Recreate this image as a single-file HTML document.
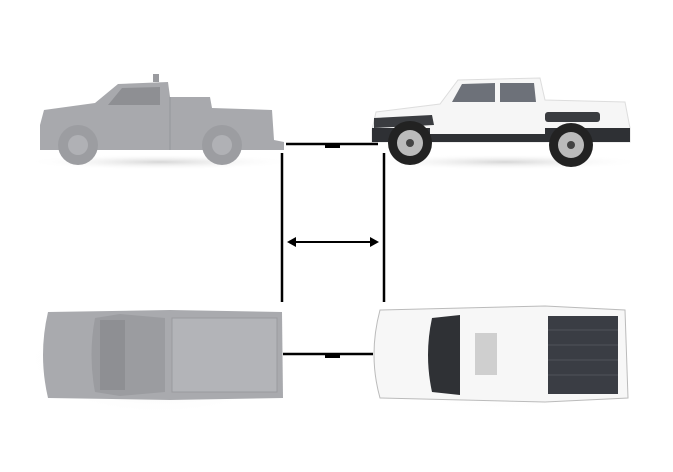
<!DOCTYPE html>
<html><head><style>html,body{margin:0;padding:0;background:#fff}svg{display:block}</style></head>
<body>
<svg width="673" height="472" viewBox="0 0 673 472" xmlns="http://www.w3.org/2000/svg">
<defs>
<radialGradient id="sh" cx="0.5" cy="0.5" r="0.5"><stop offset="0" stop-color="#ccc" stop-opacity="0.8"/><stop offset="1" stop-color="#fff" stop-opacity="0"/></radialGradient>
</defs>
<rect width="673" height="472" fill="#fff"/>
<!-- shadows -->
<ellipse cx="160" cy="162" rx="135" ry="8" fill="url(#sh)"/>
<ellipse cx="505" cy="162" rx="140" ry="8" fill="url(#sh)"/>
<ellipse cx="160" cy="360" rx="135" ry="55" fill="url(#sh)"/>
<ellipse cx="500" cy="357" rx="140" ry="55" fill="url(#sh)"/>

<!-- top-left gray truck side -->
<g fill="#a8a9ad">
<path d="M40 125 L44 110 L95 103 L118 84 L168 82 L170 97 L210 97 L212 108 L272 110 L274 140 L284 142 L284 150 L40 150 Z"/>
<rect x="153" y="74" width="6" height="8" fill="#9a9b9f"/>
</g>
<path d="M122 88 L160 87 L160 105 L108 105 Z" fill="#8e8f93"/>
<line x1="170" y1="97" x2="170" y2="150" stroke="#95969a"/>
<circle cx="78" cy="145" r="20" fill="#9c9da1"/><circle cx="78" cy="145" r="10" fill="#b0b1b5"/>
<circle cx="222" cy="145" r="20" fill="#9c9da1"/><circle cx="222" cy="145" r="10" fill="#b0b1b5"/>

<!-- top-right white truck side -->
<path d="M372 130 L376 112 L440 104 L458 80 L540 78 L545 100 L625 102 L630 128 L630 142 L372 142 Z" fill="#f6f6f6" stroke="#ddd"/>
<path d="M462 84 L495 83 L495 102 L452 102 Z" fill="#6d7179"/>
<path d="M500 83 L534 83 L536 102 L500 102 Z" fill="#6d7179"/>
<path d="M374 118 L432 115 L434 125 L374 128 Z" fill="#3a3c40"/>
<rect x="545" y="112" width="55" height="10" rx="3" fill="#3a3c40"/>
<rect x="372" y="128" width="258" height="14" fill="#2e3034"/>
<rect x="430" y="128" width="115" height="6" fill="#f6f6f6"/>
<circle cx="410" cy="143" r="22" fill="#222"/><circle cx="410" cy="143" r="13" fill="#bbb"/><circle cx="410" cy="143" r="4" fill="#444"/>
<circle cx="571" cy="145" r="22" fill="#222"/><circle cx="571" cy="145" r="13" fill="#bbb"/><circle cx="571" cy="145" r="4" fill="#444"/>

<!-- bottom-left gray truck top view -->
<path d="M48 312 L170 310 L282 312 L283 398 L170 400 L48 398 Q38 355 48 312 Z" fill="#a9aaae"/>
<path d="M95 318 L120 314 L165 318 L165 392 L120 396 L95 392 Q88 355 95 318 Z" fill="#9b9ca0"/>
<rect x="172" y="318" width="105" height="74" fill="#b3b4b8" stroke="#9a9b9f"/>
<rect x="100" y="320" width="25" height="70" fill="#8e8f93"/>

<!-- bottom-right white truck top view -->
<path d="M380 310 L545 306 L625 310 L628 398 L545 402 L380 398 Q368 355 380 310 Z" fill="#f7f7f7" stroke="#bbb"/>
<path d="M432 318 L460 315 L460 395 L432 392 Q424 355 432 318 Z" fill="#2f3135"/>
<rect x="475" y="333" width="22" height="42" fill="#cfcfcf"/>
<rect x="548" y="316" width="70" height="78" fill="#3a3d44"/>
<g stroke="#50535a" stroke-width="1"><line x1="548" y1="330" x2="618" y2="330"/><line x1="548" y1="345" x2="618" y2="345"/><line x1="548" y1="360" x2="618" y2="360"/><line x1="548" y1="375" x2="618" y2="375"/></g>

<!-- dimension lines -->
<g stroke="#000" stroke-width="2.5" fill="none">
<line x1="286" y1="144" x2="378" y2="144"/>
<line x1="282" y1="153" x2="282" y2="302"/>
<line x1="384" y1="153" x2="384" y2="302"/>
<line x1="294" y1="242" x2="373" y2="242" stroke-width="2"/>
<line x1="283" y1="354" x2="373" y2="354"/>
</g>
<rect x="325" y="144" width="15" height="4" fill="#000"/>
<rect x="325" y="354" width="15" height="4" fill="#000"/>
<path d="M287 242 L296 237 L296 247 Z" fill="#000"/>
<path d="M379 242 L370 237 L370 247 Z" fill="#000"/>
</svg>
</body></html>
